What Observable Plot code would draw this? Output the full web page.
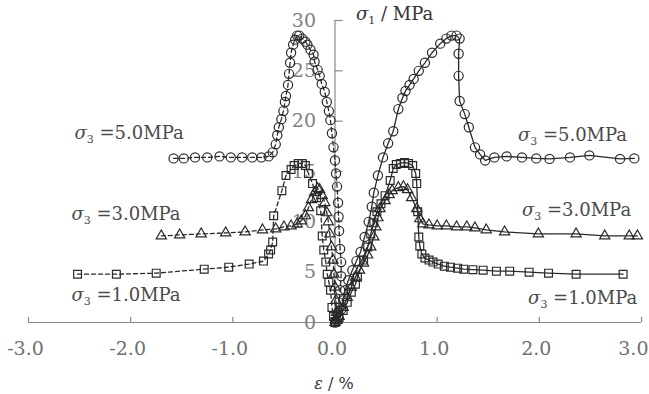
<!DOCTYPE html>
<html>
<head>
<meta charset="utf-8">
<script src="https://cdn.jsdelivr.net/npm/d3@7"></script>
<script src="https://cdn.jsdelivr.net/npm/@observablehq/plot@0.6"></script>
<style>
  html, body { margin: 0; padding: 0; background: #fff; }
</style>
</head>
<body>
<div id="chart"></div>
<script>
// Tick values
const xTicks = [-3, -2, -1, 0, 1, 2, 3];
const yTicks = [0, 5, 10, 15, 20, 25, 30];

// Lateral strain (negative side, dashed)
const lat5 = [[-1.58,16.3],[-1.48,16.3],[-1.37,16.4],[-1.25,16.4],[-1.13,16.5],[-1.02,16.4],[-0.91,16.4],[-0.81,16.4],[-0.72,16.4],[-0.65,16.5],[-0.61,16.9],[-0.58,17.7],[-0.565,18.6],[-0.55,19.4],[-0.525,20.2],[-0.505,21.0],[-0.49,21.9],[-0.48,22.5],[-0.46,23.6],[-0.45,24.7],[-0.44,25.8],[-0.43,26.8],[-0.41,27.6],[-0.39,28.1],[-0.37,28.5],[-0.35,28.5],[-0.32,28.2],[-0.29,27.9],[-0.27,27.6],[-0.24,27.1],[-0.21,26.6],[-0.2,25.9],[-0.17,25.1],[-0.15,24.5],[-0.13,23.7],[-0.1,22.9],[-0.08,21.9],[-0.06,21.0],[-0.045,20.1],[-0.03,18.8],[-0.015,17.4],[0.0,16.1],[0.01,14.8],[0.02,13.5],[0.03,11.9],[0.035,10.5],[0.04,9.1],[0.05,7.3],[0.06,6.0],[0.06,4.6],[0.05,3.2],[0.04,2.0],[0.03,1.0],[0.02,0.2]];
const lat3 = [[-1.70,8.6],[-1.52,8.7],[-1.31,8.8],[-1.07,8.9],[-0.88,9.0],[-0.71,9.2],[-0.58,9.3],[-0.50,9.5],[-0.43,9.6],[-0.37,9.8],[-0.33,10.1],[-0.29,10.6],[-0.26,11.4],[-0.23,12.2],[-0.2,12.9],[-0.17,13.3],[-0.15,13.2],[-0.125,12.6],[-0.1,11.9],[-0.08,10.9],[-0.065,10.0],[-0.05,8.8],[-0.035,7.5],[-0.02,6.2],[-0.01,4.8],[0.0,3.5],[0.01,2.2],[0.015,1.0],[0.02,0.2]];
const lat1 = [[-2.52,4.8],[-2.14,4.8],[-1.75,4.9],[-1.28,5.3],[-1.04,5.5],[-0.84,5.8],[-0.70,6.1],[-0.65,6.8],[-0.63,7.2],[-0.61,8.0],[-0.60,10.6],[-0.52,13.1],[-0.48,14.6],[-0.43,15.2],[-0.40,15.6],[-0.36,15.8],[-0.32,15.8],[-0.29,15.6],[-0.26,14.8],[-0.22,13.8],[-0.18,12.4],[-0.14,11.1],[-0.125,8.6],[-0.11,7.2],[-0.09,6.0],[-0.076,4.8],[-0.06,4.0],[-0.044,3.2],[-0.03,1.5],[-0.015,0.6],[0.0,0.1]];

// Axial strain (positive side, solid)
const ax5 = [[0.0,0],[0.03,0.5],[0.06,1.3],[0.08,2.2],[0.1,3.2],[0.13,4.2],[0.17,5.2],[0.21,6.1],[0.25,7.0],[0.29,8.5],[0.33,10.0],[0.36,11.5],[0.38,12.9],[0.42,14.6],[0.47,16.4],[0.52,17.8],[0.57,19.0],[0.62,21.2],[0.66,22.3],[0.69,23.0],[0.73,23.6],[0.77,24.2],[0.82,25.0],[0.88,25.8],[0.95,26.8],[1.03,27.7],[1.09,28.2],[1.14,28.5],[1.19,28.5],[1.22,28.2],[1.21,26.7],[1.21,24.5],[1.22,22.0],[1.27,20.7],[1.31,19.4],[1.37,17.4],[1.42,16.7],[1.47,16.1],[1.56,16.4],[1.68,16.5],[1.83,16.4],[1.97,16.3],[2.1,16.25],[2.3,16.4],[2.49,16.6],[2.79,16.25],[2.93,16.3]];
const ax3 = [[0.0,0],[0.04,0.6],[0.08,1.5],[0.12,2.5],[0.16,3.5],[0.2,4.5],[0.24,5.2],[0.28,5.9],[0.32,6.7],[0.35,7.5],[0.38,8.5],[0.40,9.5],[0.42,10.4],[0.44,11.3],[0.49,12.1],[0.53,12.7],[0.56,13.1],[0.62,13.4],[0.67,13.5],[0.71,13.2],[0.75,12.4],[0.80,11.3],[0.83,10.3],[0.86,9.8],[0.92,9.7],[1.0,9.6],[1.09,9.6],[1.19,9.5],[1.29,9.5],[1.37,9.4],[1.48,9.2],[1.66,9.0],[1.99,8.8],[2.36,8.8],[2.64,8.6],[2.88,8.6],[2.96,8.6]];
const ax1 = [[0.0,0],[0.04,0.5],[0.08,1.2],[0.12,2.0],[0.16,3.0],[0.2,3.8],[0.22,4.5],[0.28,6.2],[0.32,7.5],[0.35,8.8],[0.38,9.9],[0.41,11.0],[0.45,11.8],[0.49,12.6],[0.54,14.1],[0.57,15.3],[0.6,15.7],[0.64,15.8],[0.68,15.9],[0.72,15.8],[0.76,15.6],[0.79,14.8],[0.80,13.8],[0.81,11.0],[0.82,8.5],[0.83,7.6],[0.85,6.8],[0.88,6.4],[0.92,6.2],[0.96,6.0],[1.01,5.8],[1.07,5.6],[1.13,5.5],[1.2,5.4],[1.26,5.3],[1.35,5.25],[1.45,5.2],[1.58,5.1],[1.71,5.1],[1.9,5.0],[2.09,4.9],[2.36,4.8],[2.82,4.8]];

// Curve labels
const labelText = ["σ3 =5.0MPa", "σ3 =5.0MPa", "σ3 =3.0MPa", "σ3 =3.0MPa", "σ3 =1.0MPa", "σ3 =1.0MPa"];
const labelX = [-2.55, 1.79, -2.58, 1.83, -2.58, 1.89];
const labelY = [18.8, 18.6, 10.8, 11.2, 2.7, 2.4];

const ink = "#2a2a2a";
const series = [
  {data: lat5, symbol: "circle", dash: "4,3", r: 4.6},
  {data: lat3, symbol: "triangle", dash: "4,3", r: 3.8},
  {data: lat1, symbol: "square", dash: "4,3", r: 4.4},
  {data: ax5, symbol: "circle", dash: null, r: 4.6},
  {data: ax3, symbol: "triangle", dash: null, r: 3.8},
  {data: ax1, symbol: "square", dash: null, r: 4.4}
];

const fmt = d => d.toFixed(1);
const marks = [
  // x axis line, ticks, labels
  Plot.ruleY([0], {x1: -3, x2: 3, stroke: "#8a8a8a", strokeWidth: 1.2}),
  Plot.ruleX(xTicks.filter(d => d !== 0), {x: d => d, y1: 0, y2: 0.5, stroke: "#8a8a8a", strokeWidth: 1.2}),
  Plot.text(xTicks.filter(d => d !== 3), {x: d => d, y: 0, dy: 26, dx: -3, text: fmt, fill: "#707070", fontSize: 19}),
  Plot.text(xTicks.filter(d => d === 3), {x: d => d, y: 0, dy: 26, dx: 7, textAnchor: "end", text: fmt, fill: "#707070", fontSize: 19}),
  // y axis line, ticks, labels
  Plot.ruleX([0], {y1: 0, y2: 30, stroke: "#8a8a8a", strokeWidth: 1.2}),
  Plot.ruleY(yTicks, {y: d => d, x1: 0, x2: 0.08, stroke: "#8a8a8a", strokeWidth: 1.2}),
  Plot.text(yTicks, {x: 0, y: d => d, dx: -19, textAnchor: "end", text: d => String(d), fill: "#808080", fontSize: 19}),
  // axis titles
  Plot.text(["σ1 / MPa"], {x: 0, y: 30, dx: 21, dy: -6, textAnchor: "start", fill: "#333", fontSize: 18}),
  Plot.text(["ε / %"], {x: 0, y: 0, dy: 61, dx: -1, textAnchor: "middle", fill: "#333", fontSize: 16})
];

for (const s of series) {
  marks.push(Plot.line(s.data, {x: d => d[0], y: d => d[1], stroke: ink, strokeWidth: 1.3, strokeDasharray: s.dash}));
  marks.push(Plot.dot(s.data, {x: d => d[0], y: d => d[1], symbol: s.symbol, r: s.r, stroke: ink, strokeWidth: 1.2, fill: "none"}));
}

marks.push(Plot.text(labelText, {x: (d, i) => labelX[i], y: (d, i) => labelY[i], text: d => d, textAnchor: "start", fill: "#4a4a4a", fontSize: 18}));

const chart = Plot.plot({
  width: 649,
  height: 394,
  marginLeft: 28,
  marginRight: 8,
  marginTop: 20,
  marginBottom: 72,
  x: {domain: [-3, 3], axis: null},
  y: {domain: [0, 30], axis: null},
  style: {fontFamily: "'DejaVu Serif', 'Liberation Serif', serif", background: "white", overflow: "visible"},
  marks
});

// Italic Greek letters with subscripts
chart.querySelectorAll("text").forEach(t => {
  const s = t.textContent;
  const m = s.match(/^([σε])(\d?)(.*)$/);
  if (!m) return;
  const ns = "http://www.w3.org/2000/svg";
  const fs = parseFloat(t.getAttribute("font-size") || 18);
  t.textContent = "";
  const g = document.createElementNS(ns, "tspan");
  g.setAttribute("font-style", "italic");
  g.textContent = m[1];
  t.appendChild(g);
  let shift = 0;
  if (m[2]) {
    const sub = document.createElementNS(ns, "tspan");
    sub.setAttribute("font-size", Math.round(fs * 0.6));
    sub.setAttribute("dy", 4);
    sub.textContent = m[2];
    t.appendChild(sub);
    shift = -4;
  }
  const rest = document.createElementNS(ns, "tspan");
  if (shift) rest.setAttribute("dy", shift);
  rest.textContent = m[3];
  t.appendChild(rest);
});

document.getElementById("chart").appendChild(chart);
</script>
</body>
</html>
